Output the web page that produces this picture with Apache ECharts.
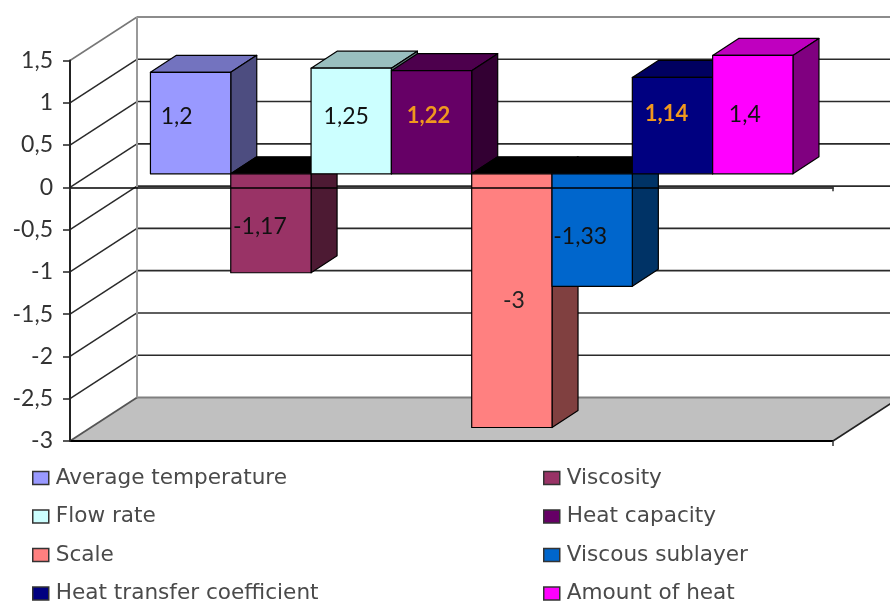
<!DOCTYPE html>
<html>
<head>
<meta charset="utf-8">
<script src="https://cdn.jsdelivr.net/npm/echarts@6/dist/echarts.min.js"></script>
<style>html,body{margin:0;padding:0;background:#fff}#chart{width:890px;height:602px}</style>
</head>
<body>
<div id="chart"></div>
<script>
// Measured quantities, one per bar
const names = ['Average temperature','Viscosity','Flow rate','Heat capacity','Scale','Viscous sublayer','Heat transfer coefficient','Amount of heat'];
const values = [1.2,-1.17,1.25,1.22,-3,-1.33,1.14,1.4];
const yTicks = [1.5,1,0.5,0,-0.5,-1,-1.5,-2,-2.5,-3];

// Bar face colours: front, side, top
const frontColors = ['#9999FF','#993366','#CCFFFF','#660066','#FF8080','#0066CC','#000080','#FF00FF'];
const sideColors = ['#4D4D80','#4D1A33','#668080','#330033','#804040','#003366','#000040','#800080'];
const topColors = ['#7373BF','#000000','#99BFBF','#4D004D','#000000','#000000','#000060','#BF00BF'];
const labelColors = ['#111','#111','#111','#F0981E','#222','#111','#F0981E','#111'];
const labelFonts = ['23px Lato','23px Lato','23px Lato','bold 22px Lato','23px Lato','23px Lato','bold 22px Lato','23px Lato'];
const labelNudge = [[-14,-7],[-11,3],[-5,-4],[-3,-6],[2,0],[-12,7],[-6,-12],[-8,0]];

// Oblique projection offsets, in pixels
const wall = {dx: 67, dy: -43.5};
const face = {dx: 20.2, dy: -13.5};
const depth = {dx: 26, dy: -17};
const firstSlot = 0.75;
const slotCount = 9.5;

const fmt = v => String(v).replace('.', ',');
const line = (a, b, stroke, lineWidth) => ({type:'line', shape:{x1:a[0],y1:a[1],x2:b[0],y2:b[1]}, style:{stroke, lineWidth}, silent:true});
const poly = (points, fill) => ({type:'polygon', shape:{points}, style:{fill, stroke:'#000', lineWidth:1.2, lineJoin:'round'}, silent:true});

// Walls, floor and gridlines of the box behind the bars
function renderFrame(params, api) {
  const children = [];
  const bl = api.coord([0,-3]);
  const br = api.coord([slotCount,-3]);
  const back = p => [p[0]+wall.dx, p[1]+wall.dy];
  children.push({type:'polygon', shape:{points:[bl,br,back(br),back(bl)]}, style:{fill:'#C0C0C0'}, silent:true});
  yTicks.forEach(t => {
    const a = api.coord([0,t]);
    const b = api.coord([slotCount,t]);
    const edge = t === 1.5 || t === -3;
    if (t !== -3) {
      children.push(line(back(a), back(b), edge ? '#8c8c8c' : '#2a2a2a', edge ? 2 : 1.6));
      children.push(line(a, back(a), edge ? '#777' : '#2a2a2a', 1.5));
    } else {
      children.push(line(back(a), back(b), '#808080', 2));
      children.push(line(a, back(a), '#555', 1.8));
    }
  });
  const tl = api.coord([0,1.5]);
  children.push(line(back(tl), back(bl), '#999', 2));
  children.push(line(br, back(br), '#222', 1.5));
  children.push(line(bl, br, '#000', 1.8));
  children.push(line(br, [br[0], br[1]+5], '#333', 1.5));
  return {type:'group', children};
}

// One oblique box for a bar: top or inner face, side face, front face and its value
function renderBar(i) {
  return function (params, api) {
    const v = api.value(1);
    const x0 = api.coord([firstSlot+i, 0])[0] + face.dx;
    const x1 = api.coord([firstSlot+i+1, 0])[0] + face.dx;
    const y0 = api.coord([0, 0])[1] + face.dy;
    const yv = api.coord([0, v])[1] + face.dy;
    const up = Math.min(y0, yv);
    const low = Math.max(y0, yv);
    const d = depth;
    const children = [
      poly([[x0,up],[x1,up],[x1+d.dx,up+d.dy],[x0+d.dx,up+d.dy]], topColors[i]),
      poly([[x1,up],[x1+d.dx,up+d.dy],[x1+d.dx,low+d.dy],[x1,low]], sideColors[i]),
      poly([[x0,up],[x1,up],[x1,low],[x0,low]], frontColors[i]),
      {type:'text', silent:true, style:{
        text: fmt(v),
        x: (x0+x1)/2 + labelNudge[i][0],
        y: (up+low)/2 + labelNudge[i][1],
        align:'center', verticalAlign:'middle',
        fill: labelColors[i],
        font: labelFonts[i]
      }}
    ];
    return {type:'group', children};
  };
}

const series = [{
  type:'custom', name:'frame', silent:true, z:1,
  data:[[0,0]], renderItem:renderFrame, clip:false
}].concat(names.map((name,i) => ({
  type:'custom', name, silent:true, z:2+i*0.01,
  itemStyle:{color:frontColors[i]},
  data:[[firstSlot+i, values[i]]],
  encode:{x:0,y:1},
  renderItem:renderBar(i), clip:false
})));

const legendBase = {
  orient:'vertical', icon:'rect', itemWidth:16, itemHeight:13, itemGap:16.5, selectedMode:false,
  height:150, padding:0,
  itemStyle:{borderColor:'#333', borderWidth:1.5},
  textStyle:{fontFamily:'DejaVu Sans', fontSize:21.6, color:'#4a4a4a', padding:[0,0,0,2], lineHeight:20}
};

const chart = echarts.init(document.getElementById('chart'), null, {renderer:'canvas'});
chart.setOption({
  animation:false,
  backgroundColor:'#fff',
  grid:{left:70, right:57, top:60.5, bottom:161},
  xAxis:{
    type:'value', min:0, max:slotCount, interval:slotCount, z:6,
    axisLine:{show:true, onZero:true, lineStyle:{color:'rgba(0,0,0,0.75)', width:2}},
    axisTick:{show:true, length:4, lineStyle:{color:'#333', width:1.5}},
    axisLabel:{show:false}, splitLine:{show:false}
  },
  yAxis:{
    type:'value', min:-3, max:1.5, interval:0.5, z:6,
    axisLine:{show:true, onZero:false, lineStyle:{color:'#222', width:2}},
    axisTick:{show:true, length:7, lineStyle:{color:'#222', width:1.5}},
    axisLabel:{formatter:fmt, margin:17, fontFamily:'Lato', fontSize:23, color:'#333'},
    splitLine:{show:false}
  },
  legend:[
    Object.assign({}, legendBase, {left:32, top:467, data:names.filter((n,i)=>i%2===0)}),
    Object.assign({}, legendBase, {left:543, top:467, data:names.filter((n,i)=>i%2===1)})
  ],
  series
});
</script>
</body>
</html>
